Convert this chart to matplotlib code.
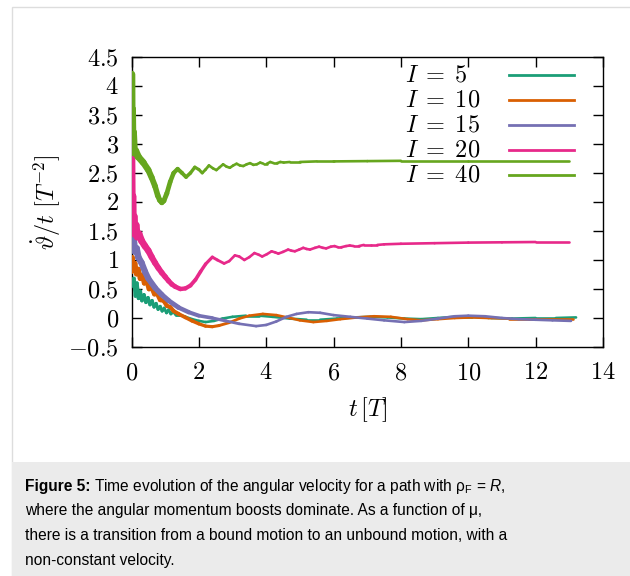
import matplotlib
matplotlib.use("Agg")
import matplotlib.pyplot as plt
import numpy as np
from matplotlib.collections import LineCollection
from matplotlib.patches import Rectangle

plt.rcParams['mathtext.fontset'] = 'cm'
plt.rcParams['font.family'] = ['Liberation Sans', 'DejaVu Sans']
plt.rcParams['mathtext.rm'] = 'Liberation Sans'
plt.rcParams['mathtext.it'] = 'Liberation Sans:italic'
plt.rcParams['mathtext.bf'] = 'Liberation Sans:bold'

# angular velocity curves, one per I
t5 = [0.05, 0.07, 0.12, 0.16, 0.21, 0.26, 0.31, 0.37, 0.43, 0.49, 0.55, 0.61, 0.67,
      0.73, 0.79, 0.85, 0.91, 0.97, 1.04, 1.1, 1.17, 1.24, 1.32, 1.45, 1.6, 1.8,
      2.0, 2.2, 2.45, 2.7, 3.0, 3.4, 3.8, 4.2, 4.7, 5.2, 5.6, 6.1, 6.6, 7.1, 7.6,
      8.1, 8.6, 9.1, 9.6, 10.1, 10.7, 11.3, 12.0, 12.6, 13.2]
v5 = [0.55, 0.68, 0.38, 0.6, 0.34, 0.46, 0.3, 0.4, 0.27, 0.35, 0.23, 0.3, 0.19,
      0.25, 0.15, 0.2, 0.12, 0.17, 0.09, 0.14, 0.07, 0.11, 0.05, 0.05, 0.02, -0.02,
      -0.05, -0.07, -0.05, -0.01, 0.02, 0.04, 0.04, 0.02, -0.01, -0.03, -0.03, -0.01,
      0.01, 0.02, 0.01, -0.01, -0.02, 0.0, 0.02, 0.02, 0.0, -0.01, 0.0, 0.0, 0.01]

t10 = [0.0, 0.02, 0.06, 0.1, 0.15, 0.2, 0.26, 0.32, 0.38, 0.45, 0.52, 0.6, 0.68,
       0.76, 0.85, 0.95, 1.05, 1.15, 1.25, 1.4, 1.6, 1.8, 2.0, 2.2, 2.4, 2.6, 2.9,
       3.2, 3.5, 3.9, 4.3, 4.7, 5.0, 5.4, 5.8, 6.2, 6.7, 7.2, 7.7, 8.2, 8.6, 9.1,
       9.6, 10.1, 10.6, 11.2, 11.8, 12.4, 13.1]
v10 = [0.8, 1.04, 0.82, 0.94, 0.76, 0.84, 0.68, 0.74, 0.6, 0.64, 0.5, 0.52, 0.41,
       0.42, 0.31, 0.3, 0.21, 0.19, 0.12, 0.07, 0.01, -0.05, -0.1, -0.14, -0.15,
       -0.13, -0.08, -0.01, 0.04, 0.07, 0.05, 0.0, -0.04, -0.07, -0.05, -0.02, 0.01,
       0.03, 0.02, -0.02, -0.04, -0.02, 0.0, 0.01, 0.0, -0.01, -0.01, -0.01, -0.01]

t15 = [0.0, 0.03, 0.06, 0.1, 0.15, 0.2, 0.3, 0.4, 0.5, 0.7, 0.9, 1.1, 1.4, 1.7,
       2.0, 2.4, 2.8, 3.2, 3.7, 4.0, 4.3, 4.6, 4.9, 5.25, 5.6, 6.0, 6.5, 7.0, 7.5,
       8.1, 8.6, 9.1, 9.6, 10.0, 10.5, 11.0, 11.5, 12.0, 12.5, 13.05]
v15 = [1.45, 1.22, 1.36, 1.15, 1.2, 1.05, 0.95, 0.8, 0.68, 0.52, 0.4, 0.3, 0.18,
       0.1, 0.04, 0.0, -0.05, -0.1, -0.14, -0.12, -0.06, 0.02, 0.07, 0.1, 0.09,
       0.05, 0.02, -0.01, -0.04, -0.07, -0.05, -0.01, 0.03, 0.04, 0.03, 0.0, -0.02,
       -0.03, -0.04, -0.05]

t20 = [0.0, 0.015, 0.03, 0.05, 0.07, 0.1, 0.13, 0.17, 0.22, 0.3, 0.4, 0.5, 0.6,
       0.7, 0.8, 0.9, 1.0, 1.1, 1.2, 1.3, 1.45, 1.6, 1.75, 1.9, 2.05, 2.2, 2.4,
       2.55, 2.75, 2.9, 3.07, 3.2, 3.35, 3.5, 3.65, 3.78, 3.88, 4.02, 4.16, 4.27,
       4.36, 4.5, 4.65, 4.75, 4.85, 4.98, 5.1, 5.2, 5.3, 5.45, 5.57, 5.68, 5.78,
       5.92, 6.03, 6.13, 6.23, 6.37, 6.48, 6.6, 6.75, 6.9, 7.1, 7.3, 7.5, 8.0, 9.0,
       10.0, 11.0, 12.0, 13.0]
v20 = [2.8, 1.6, 2.1, 1.5, 1.75, 1.45, 1.6, 1.4, 1.45, 1.33, 1.24, 1.16, 1.05,
       0.95, 0.86, 0.78, 0.71, 0.64, 0.58, 0.54, 0.5, 0.51, 0.56, 0.66, 0.8, 0.93,
       1.05, 1.0, 0.94, 0.98, 1.08, 1.06, 1.0, 1.05, 1.12, 1.09, 1.06, 1.1, 1.15,
       1.13, 1.11, 1.14, 1.18, 1.16, 1.15, 1.18, 1.21, 1.19, 1.18, 1.21, 1.23, 1.21,
       1.2, 1.23, 1.24, 1.22, 1.22, 1.24, 1.25, 1.24, 1.24, 1.26, 1.26, 1.26, 1.27,
       1.28, 1.29, 1.3, 1.305, 1.31, 1.31]

t40 = [0.0, 0.01, 0.02, 0.035, 0.05, 0.08, 0.12, 0.2, 0.35, 0.5, 0.6, 0.7, 0.78,
       0.84, 0.9, 0.96, 1.05, 1.15, 1.25, 1.37, 1.5, 1.62, 1.75, 1.88, 2.0, 2.1,
       2.2, 2.3, 2.42, 2.52, 2.62, 2.72, 2.82, 2.92, 3.02, 3.12, 3.22, 3.32, 3.42,
       3.52, 3.62, 3.72, 3.82, 3.92, 4.02, 4.12, 4.22, 4.32, 4.42, 4.52, 4.7, 5.0,
       5.5, 6.0, 7.0, 8.0, 10.0, 13.0]
v40 = [4.2, 3.0, 3.6, 2.9, 3.2, 2.85, 2.88, 2.78, 2.68, 2.55, 2.42, 2.27, 2.11,
       2.03, 1.99, 2.02, 2.15, 2.35, 2.5, 2.57, 2.5, 2.43, 2.5, 2.6, 2.56, 2.5,
       2.56, 2.63, 2.58, 2.55, 2.6, 2.65, 2.61, 2.59, 2.63, 2.66, 2.63, 2.62, 2.65,
       2.67, 2.64, 2.65, 2.68, 2.66, 2.66, 2.69, 2.67, 2.67, 2.69, 2.68, 2.69, 2.69,
       2.7, 2.7, 2.705, 2.71, 2.71, 2.71]

# (t, value, colour, key label, time the fuzzy start settles, start width)
series = [
    (t5, v5, '#1b9e77', r'$I\;=\;5$', 2.0, 2.8),
    (t10, v10, '#d95f02', r'$I\;=\;10$', 3.5, 3.8),
    (t15, v15, '#7570b3', r'$I\;=\;15$', 3.5, 5.0),
    (t20, v20, '#e7298a', r'$I\;=\;20$', 3.0, 5.5),
    (t40, v40, '#66a61e', r'$I\;=\;40$', 2.5, 5.5),
]

xticks = [0, 2, 4, 6, 8, 10, 12, 14]
yticks = [-0.5, 0, 0.5, 1, 1.5, 2, 2.5, 3, 3.5, 4, 4.5]

caption = [
    "where the angular momentum boosts dominate. As a function of μ,",
    "there is a transition from a bound motion to an unbound motion, with a",
    "non-constant velocity.",
]

fig = plt.figure(figsize=(6.3, 5.76), dpi=100)

# page panel and caption box
fig.patches.append(Rectangle((12 / 630, 0), 1, 1 - 7 / 576, transform=fig.transFigure,
                             facecolor='white', edgecolor='#dddddd', lw=1, zorder=-2))
fig.patches.append(Rectangle((12 / 630, 0), 1, 1 - 462 / 576, transform=fig.transFigure,
                             facecolor='#ebebeb', edgecolor='none', zorder=-1))

ax = fig.add_axes([131.5 / 630, 229 / 576, 471.5 / 630, 290 / 576])
ax.set_facecolor('none')

base_lw = 1.9
for t, v, c, lab, tb, wb in series:
    pts = np.column_stack([t, v])
    segs = np.stack([pts[:-1], pts[1:]], axis=1)
    mid = 0.5 * (np.array(t[:-1]) + np.array(t[1:]))
    # the early part is a blur of fast oscillations: widen it and let it narrow
    frac = np.clip(1 - mid / tb, 0, 1)
    widths = base_lw + (wb - base_lw) * frac ** 1.5
    lc = LineCollection(segs, colors=c, linewidths=widths, capstyle='round',
                        joinstyle='round', zorder=3)
    ax.add_collection(lc)

ax.set_xlim(0, 14)
ax.set_ylim(-0.5, 4.5)
ax.set_xticks(xticks)
ax.set_xticklabels([f'${x:g}$' for x in xticks])
ax.set_yticks(yticks)
ax.set_yticklabels([f'${y:g}$' for y in yticks])
ax.tick_params(direction='in', length=7, width=1, top=True, right=True,
               labelsize=17.5, pad=9, color='black')
ax.tick_params(axis='x', pad=11)
for s in ax.spines.values():
    s.set_linewidth(1.0)

ax.set_xlabel(r'$t\,[T]$', fontsize=17.5, labelpad=8)
ax.set_ylabel(r'$\dot{\vartheta}/t\ [T^{-2}]$', fontsize=17.5, labelpad=4)

# key, top right
key_y = [0.9369, 0.8507, 0.7645, 0.6793, 0.5931]
for (t, v, c, lab, tb, wb), ky in zip(series, key_y):
    ax.text(0.58, ky, lab, transform=ax.transAxes, fontsize=17.5,
            ha='left', va='center')
    ax.plot([0.8006, 0.9385], [ky, ky], transform=ax.transAxes, color=c, lw=2.0)

# caption
renderer = fig.canvas.get_renderer()
head = fig.text(25 / 630, 85 / 576, 'Figure 5:', fontsize=11.2, fontweight='bold',
                va='baseline', ha='left')
hb = head.get_window_extent(renderer)
fig.text(hb.x1 / 630 + 3.5 / 630, 85 / 576,
         r'Time evolution of the angular velocity for a path with $\mathrm{\rho}_\mathrm{F}$ = $R$,',
         fontsize=11.2, va='baseline', ha='left', math_fontfamily='custom')
for i, line in enumerate(caption):
    fig.text(25 / 630, (85 - 24.5 * (i + 1)) / 576, line, fontsize=11.2,
             va='baseline', ha='left')

fig.savefig('out.png', dpi=100)
